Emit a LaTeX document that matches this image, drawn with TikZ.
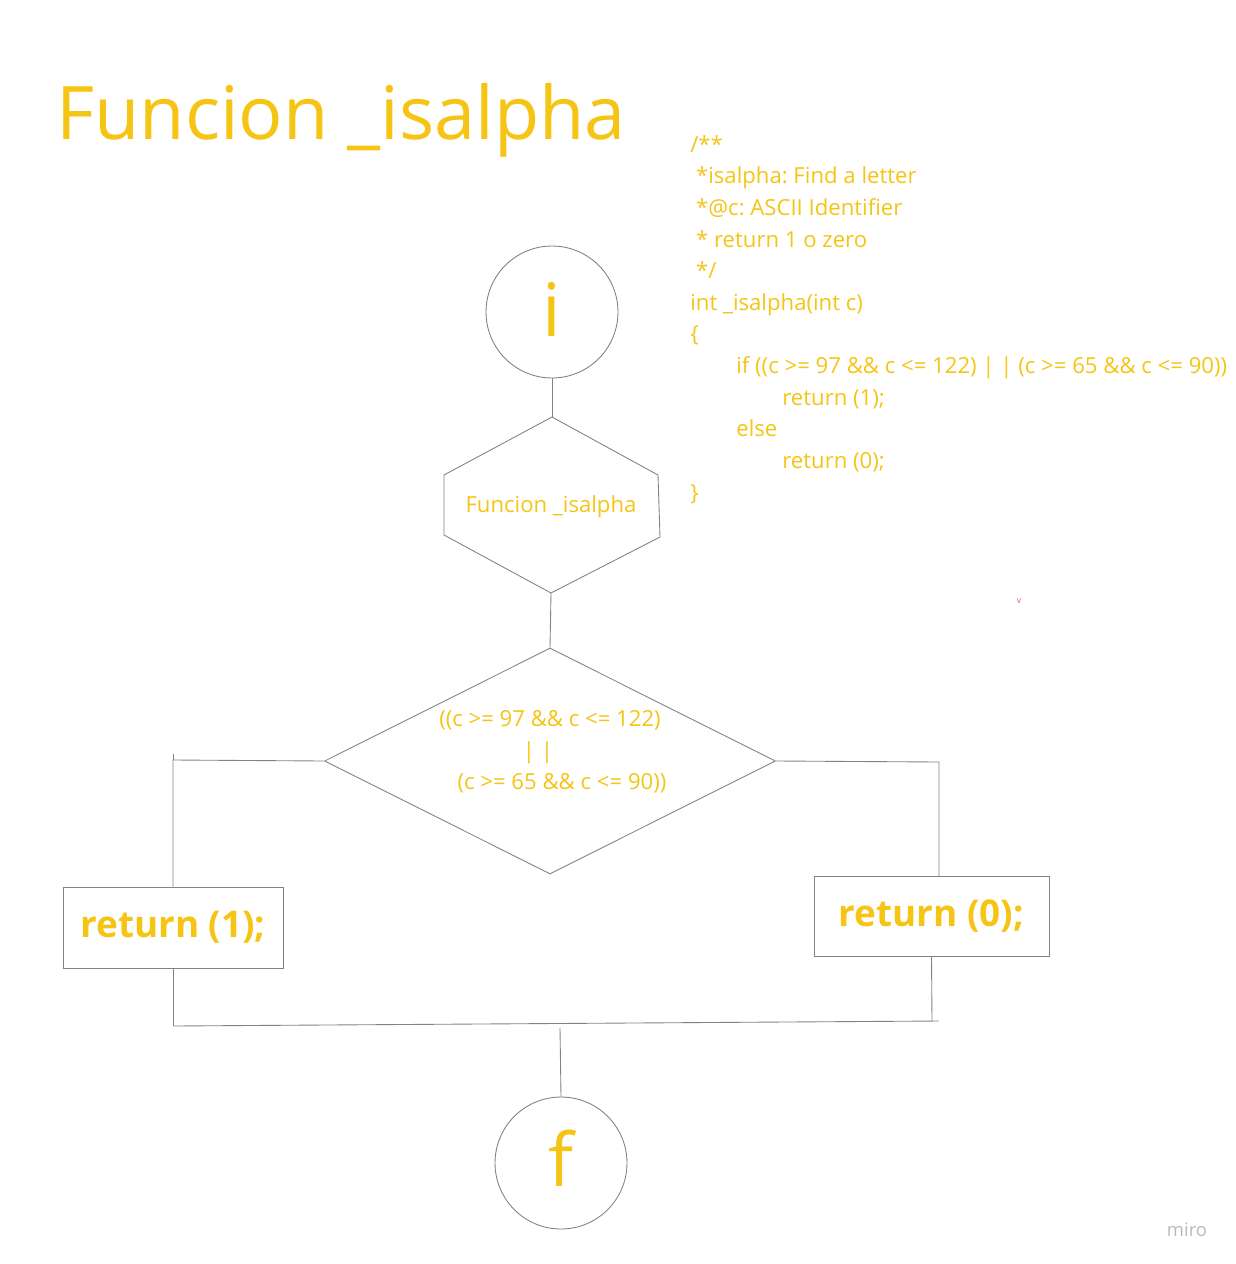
\documentclass[tikz,border=0pt]{standalone}
\usepackage{fontspec}
\setmainfont{Open Sans}
\usetikzlibrary{shapes.geometric}

\definecolor{miroyellow}{RGB}{245,196,20}
\definecolor{miroline}{RGB}{130,130,130}

\tikzset{
  flowline/.style={miroline, line width=0.5pt},
  txt/.style={text=miroyellow, inner sep=0pt},
  termbox/.style={circle, draw=miroline, line width=0.5pt, minimum size=2.64cm, inner sep=0pt,
    text=miroyellow, font=\fontsize{42}{42}\selectfont},
  retbox/.style={rectangle, draw=miroline, line width=0.5pt, inner sep=0pt,
    text=miroyellow, font=\fontsize{21}{24}\selectfont\bfseries}
}
\frenchspacing

\begin{document}
\begin{tikzpicture}[x=0.02cm, y=-0.02cm]
\useasboundingbox (0,0) rectangle (1235,1264);

\node[txt, anchor=base west, font=\fontsize{42}{42}\selectfont] (title) at (56,139) {Funcion \_isalpha};

% code listing
\node[txt, anchor=north west, align=left, font=\fontsize{12.6}{18}\selectfont] (code) at (690,135) {%
/**\\
\ *isalpha: Find a letter\\
\ *@c: ASCII Identifier\\
\ * return 1 o zero\\
\ */\\
int \_isalpha(int c)\\
\{\\
\hspace{0.92cm}if ((c >= 97 \&\& c <= 122) | | (c >= 65 \&\& c <= 90))\\
\hspace{1.84cm}return (1);\\
\hspace{0.92cm}else\\
\hspace{1.84cm}return (0);\\
\}};

\node[termbox] (start) at (552,312) {\raisebox{0.12cm}{i}};

% hexagon
\coordinate (hextop) at (552,417);
\coordinate (hexbot) at (551,593);
\draw[flowline] (hextop) -- (444,475) -- (444,535) -- (hexbot) -- (660,537) -- (658,475) -- cycle;
\node[txt, font=\fontsize{12.6}{18}\selectfont] (hexlabel) at (551,507) {Funcion \_isalpha};

\node[diamond, draw=miroline, line width=0.5pt, minimum width=9.02cm, minimum height=4.52cm, inner sep=0pt] (cond) at (550,761) {};
\node[txt, align=center, font=\fontsize{12.6}{18}\selectfont] (condlabel) at (550,752) {%
((c >= 97 \&\& c <= 122)\\
| |\kern 0.48cm\\
\kern 0.48cm(c >= 65 \&\& c <= 90))};

\node[retbox, minimum width=4.4cm, minimum height=1.62cm] (ret1) at (173,927.5) {return (1);};
\node[retbox, minimum width=4.7cm, minimum height=1.6cm] (ret0) at (931.5,916) {return (0);};

\node[termbox] (end) at (561,1163) {\raisebox{0.18cm}{f}};

\coordinate (lcorner) at (173,760);
\coordinate (rcorner) at (939,762);
\coordinate (rdrop) at (939,876);
\coordinate (jleft) at (173,1026);
\coordinate (jright) at (939,1021);
\coordinate (jmid) at (560,1028);
\coordinate (jret0) at (932,1022);

\draw[flowline] (start) -- (hextop);
\draw[flowline] (hexbot) -- (cond.north);
\draw[flowline] (cond.west) -- (lcorner) -- (ret1.north);
\draw[flowline] (lcorner) -- +(0,-6);
\draw[flowline] (cond.east) -- (rcorner) -- (rdrop);
\draw[flowline] (ret1.south) -- (jleft);
\draw[flowline] (ret0.south) -- (jret0);
\draw[flowline] (jleft) -- (jright);
\draw[flowline] (jmid) -- (end.north);

\node[text={rgb,255:red,225;green,90;blue,140}, inner sep=0pt, font=\fontsize{5}{5}\selectfont] (mark) at (1019,601) {v};
\node[text={rgb,255:red,185;green,185;blue,192}, inner sep=0pt, font=\fontsize{10.5}{12}\selectfont] (miro) at (1187,1230) {miro};
\end{tikzpicture}
\end{document}
